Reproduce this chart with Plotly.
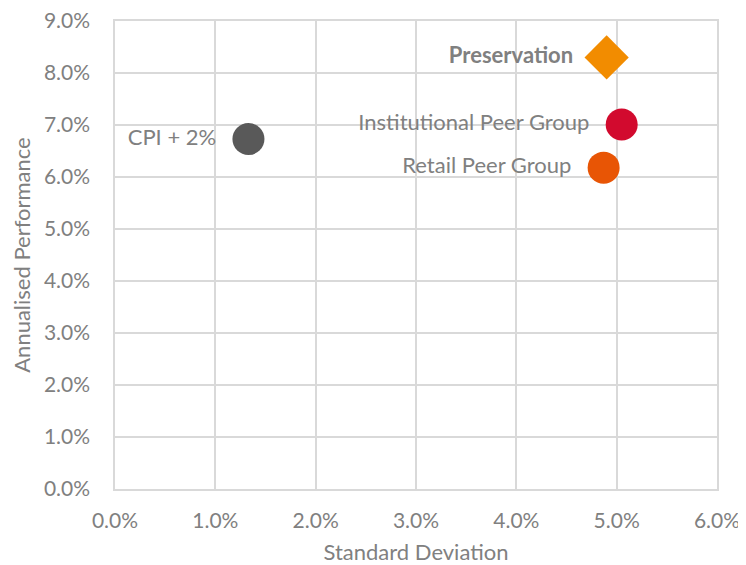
import plotly.graph_objects as go

names = ["CPI + 2%", "Preservation", "Institutional Peer Group", "Retail Peer Group"]
std_dev = [0.0133, 0.0490, 0.0505, 0.0487]
performance = [0.0673, 0.0830, 0.0701, 0.0618]
colours = ["#595959", "#F28C00", "#D20A2E", "#E85505"]
symbols = ["circle", "diamond", "circle", "circle"]
labels = ["CPI + 2%", "<b>Preservation</b>", "Institutional Peer Group", "Retail Peer Group"]

font = "Lato, 'Open Sans', sans-serif"
grey = "#808080"
grid = "#D9D9D9"

fig = go.Figure()
for i in range(len(names)):
    fig.add_trace(go.Scatter(
        x=[std_dev[i]], y=[performance[i]],
        mode="markers+text",
        name=names[i],
        text=["  " + labels[i] + "  "],
        textposition="middle left",
        textfont=dict(family=font, size=22, color=grey),
        marker=dict(symbol=symbols[i], size=32 if symbols[i] == "circle" else 34,
                    color=colours[i], line=dict(width=0)),
        cliponaxis=False,
    ))

# page body adds 8px offset, so margins are trimmed to suit
fig.update_layout(
    width=746, height=565,
    margin=dict(l=107, r=37, t=13, b=84),
    plot_bgcolor="white", paper_bgcolor="white",
    showlegend=False,
    font=dict(family=font, size=21, color=grey),
)
fig.update_xaxes(
    range=[0, 0.06], dtick=0.01, tickformat=".1%", automargin=False,
    tickfont=dict(size=21), ticklabeloverflow="allow",
    showgrid=True, gridcolor=grid, gridwidth=1.5,
    showline=True, linecolor=grid, linewidth=1.5, mirror=True,
    zeroline=False,
    ticks="outside", ticklen=12, tickcolor="rgba(0,0,0,0)",
    title=dict(text="Standard Deviation", font=dict(size=22, color=grey), standoff=14),
)
fig.update_yaxes(
    range=[0, 0.09], dtick=0.01, tickformat=".1%", automargin=False,
    tickfont=dict(size=21), ticklabeloverflow="allow",
    showgrid=True, gridcolor=grid, gridwidth=1.5,
    showline=True, linecolor=grid, linewidth=1.5, mirror=True,
    zeroline=False,
    ticks="outside", ticklen=19, tickcolor="rgba(0,0,0,0)",
    title=dict(text="Annualised Performance", font=dict(size=22, color=grey), standoff=8),
)

fig.write_html("out.html")
